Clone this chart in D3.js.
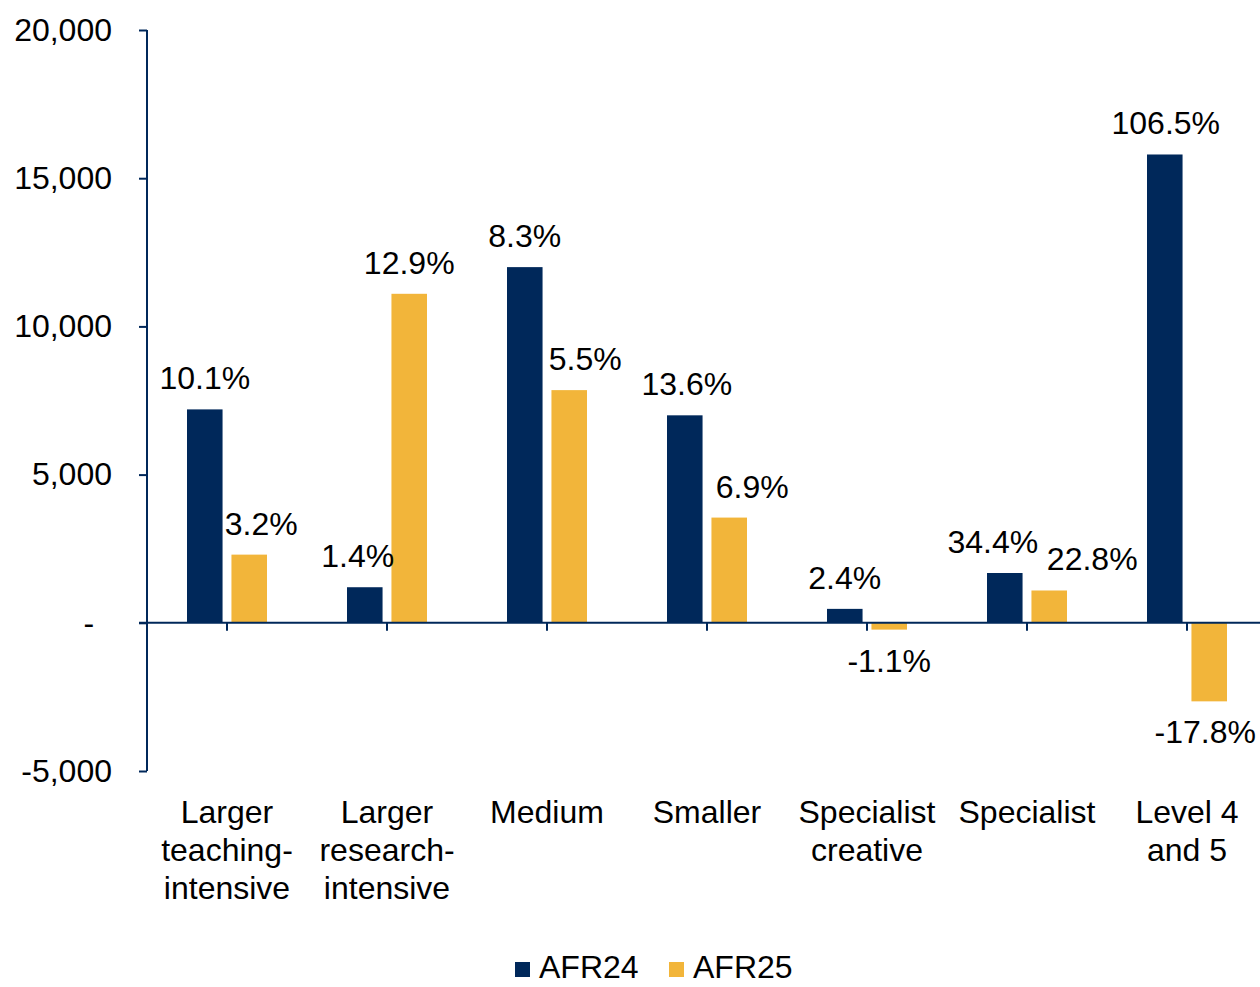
<!DOCTYPE html>
<html>
<head>
<meta charset="utf-8">
<script src="https://cdn.jsdelivr.net/npm/d3@7"></script>
<style>
body{margin:0;background:#fff;}
svg{display:block;font-family:"Liberation Sans",Arial,sans-serif;}
</style>
</head>
<body>
<svg id="chart" width="1260" height="987"></svg>
<script>
// data
var categories = [
    ["Larger","teaching-","intensive"],
    ["Larger","research-","intensive"],
    ["Medium"],
    ["Smaller"],
    ["Specialist","creative"],
    ["Specialist"],
    ["Level 4","and 5"]
];
var series = ["AFR24","AFR25"];
var afr24 = [7200, 1200, 12000, 7000, 470, 1680, 15800];
var afr25 = [2300, 11100, 7850, 3550, -230, 1090, -2650];
var afr24Pct = ["10.1%","1.4%","8.3%","13.6%","2.4%","34.4%","106.5%"];
var afr25Pct = ["3.2%","12.9%","5.5%","6.9%","-1.1%","22.8%","-17.8%"];
var yTicks = [-5000, 0, 5000, 10000, 15000, 20000];

// label nudges (px), as placed in the original
var nudge24 = [0, -7, 0, 2, 0, -12, 1];
var nudge25 = [12, 0, 16, 23, 0, 43, -4];

var navy = "#00285a";
var gold = "#f2b53a";
var colors = {AFR24: navy, AFR25: gold};
var fontSize = 32;

var svg = d3.select("#chart");

var x = d3.scaleBand()
    .domain(d3.range(categories.length))
    .range([147, 1267])
    .padding(0);
var bw = x.bandwidth();
var x1 = d3.scaleBand()
    .domain(series)
    .range([bw*0.25, bw*0.75])
    .paddingInner(0.2);
var y = d3.scaleLinear()
    .domain([-5000, 20000])
    .range([771, 30]);

var rows = [];
categories.forEach(function(c,i){
    rows.push({i:i, s:"AFR24", v:afr24[i], pct:afr24Pct[i], dx:nudge24[i]});
    rows.push({i:i, s:"AFR25", v:afr25[i], pct:afr25Pct[i], dx:nudge25[i]});
});

// bars
svg.append("g").selectAll("rect.bar")
    .data(rows)
    .enter()
    .append("rect")
    .attr("class","bar")
    .attr("x",function(d){return x(d.i)+x1(d.s);})
    .attr("y",function(d){return y(Math.max(0,d.v));})
    .attr("width",x1.bandwidth())
    .attr("height",function(d){return Math.abs(y(d.v)-y(0));})
    .attr("fill",function(d){return colors[d.s];});

// y axis
var fmt = d3.format(",");
var yAxis = d3.axisLeft(y)
    .tickValues(yTicks)
    .tickSize(8)
    .tickPadding(27)
    .tickFormat(function(d){return d===0 ? "-\u00a0\u00a0" : fmt(d).replace("\u2212","-");});
var gy = svg.append("g")
    .attr("transform","translate(147,0)")
    .call(yAxis);
gy.select(".domain").attr("stroke",navy).attr("stroke-width",2).attr("d","M0,30V771");
gy.selectAll(".tick line").attr("stroke",navy).attr("stroke-width",2);
gy.selectAll(".tick text")
    .attr("fill","#000")
    .attr("font-size",fontSize)
    .attr("font-family","Liberation Sans, Arial, sans-serif");

// zero line with ticks at category centres
var xAxis = d3.axisBottom(x)
    .tickSize(8)
    .tickFormat("");
var gx = svg.append("g")
    .attr("transform","translate(0,"+y(0)+")")
    .call(xAxis);
gx.select(".domain").attr("stroke",navy).attr("stroke-width",2).attr("d","M139,0H1267");
gx.selectAll(".tick line").attr("stroke",navy).attr("stroke-width",2);

// category labels
var cat = svg.append("g").selectAll("text.cat")
    .data(categories)
    .enter()
    .append("text")
    .attr("class","cat")
    .attr("text-anchor","middle")
    .attr("font-size",fontSize)
    .attr("fill","#000")
    .attr("x",function(d,i){return x(i)+bw/2;})
    .attr("y",823);
cat.selectAll("tspan")
    .data(function(d){return d;})
    .enter()
    .append("tspan")
    .attr("x",function(){return d3.select(this.parentNode).attr("x");})
    .attr("dy",function(d,j){return j===0 ? 0 : 38;})
    .text(function(d){return d;});

// value labels
svg.append("g").selectAll("text.lbl")
    .data(rows)
    .enter()
    .append("text")
    .attr("class","lbl")
    .attr("text-anchor","middle")
    .attr("font-size",fontSize)
    .attr("fill","#000")
    .attr("x",function(d){return x(d.i)+x1(d.s)+x1.bandwidth()/2+d.dx;})
    .attr("y",function(d){return d.v>=0 ? y(d.v)-20 : y(d.v)+42;})
    .text(function(d){return d.pct;});

// legend
var legend = svg.append("g").attr("transform","translate(515,962)");
var li = legend.selectAll("g.li")
    .data(series)
    .enter()
    .append("g")
    .attr("class","li")
    .attr("transform",function(d,i){return "translate("+(i*154)+",0)";});
li.append("rect")
    .attr("width",15)
    .attr("height",15)
    .attr("fill",function(d){return colors[d];});
li.append("text")
    .attr("x",24)
    .attr("y",16)
    .attr("font-size",fontSize)
    .attr("fill","#000")
    .text(function(d){return d;});
</script>
</body>
</html>
